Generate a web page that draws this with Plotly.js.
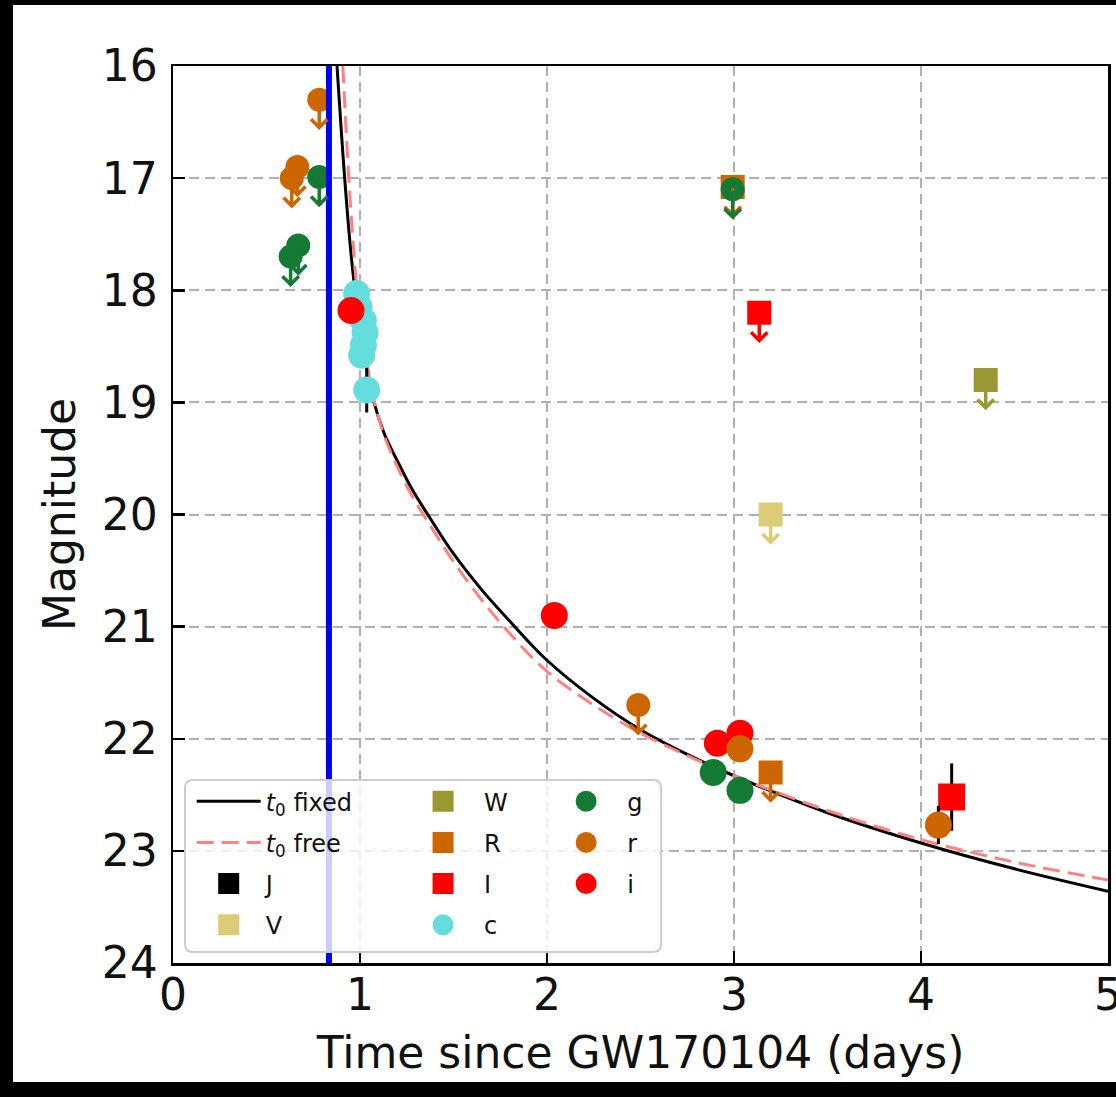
<!DOCTYPE html>
<html>
<head>
<meta charset="utf-8">
<script src="https://cdn.plot.ly/plotly-3.0.1.min.js"></script>
<style>
html,body{margin:0;padding:0;background:#000;overflow:hidden;width:1116px;height:1097px;}
#chart{position:absolute;left:13px;top:5px;width:1140px;height:1077px;background:#fff;}
</style>
</head>
<body>
<div id="chart"></div>
<script>
// ---- model curves ----
const fixedT   = [0.877, 0.90, 0.918, 0.945, 0.973, 1.02, 1.075, 1.13, 1.196, 1.28, 1.37, 1.50, 1.65, 1.80, 2.00, 2.25, 2.50, 2.75, 3.00, 3.50, 4.00, 4.50, 5.00];
const fixedMag = [16.00, 16.58, 17.00, 17.55, 18.00, 18.55, 19.00, 19.28, 19.51, 19.78, 20.02, 20.35, 20.67, 20.95, 21.30, 21.64, 21.92, 22.14, 22.33, 22.66, 22.93, 23.16, 23.36];
const freeT    = [0.908, 0.925, 0.94, 0.96, 0.984, 1.025, 1.075, 1.13, 1.196, 1.28, 1.35, 1.50, 1.65, 1.80, 2.00, 2.25, 2.50, 2.75, 3.00, 3.50, 4.00, 4.50, 5.00];
const freeMag  = [16.00, 16.55, 17.00, 17.50, 18.00, 18.52, 18.98, 19.30, 19.56, 19.84, 20.03, 20.42, 20.76, 21.06, 21.40, 21.70, 21.95, 22.15, 22.33, 22.64, 22.90, 23.10, 23.26];

// ---- trigger time ----
const triggerT = [0.834];

// ---- photometry: time (days), magnitude, upper-limit flag, error ----
const jT = [null], jMag = [null], jLim = [0], jErr = [0];
const vT = [3.196], vMag = [20.00], vLim = [1], vErr = [0];
const wT = [4.346], wMag = [18.80], wLim = [1], wErr = [0];
const RT = [2.993, 3.196], RMag = [17.08, 22.30], RLim = [1, 1], RErr = [0, 0];
const IT = [3.135, 4.164], IMag = [18.20, 22.52], ILim = [1, 0], IErr = [0, 0.30];
const cT = [0.982, 0.995, 1.018, 1.027, 1.018, 1.009, 1.036];
const cMag = [18.03, 18.15, 18.27, 18.38, 18.49, 18.58, 18.89];
const cLim = [0, 0, 0, 0, 0, 0, 0];
const cErr = [0, 0, 0, 0, 0, 0, 0.20];
const gT = [0.629, 0.670, 0.782, 2.993, 2.889, 3.032];
const gMag = [17.70, 17.60, 16.99, 17.10, 22.30, 22.46];
const gLim = [1, 1, 1, 1, 0, 0];
const gErr = [0, 0, 0, 0, 0, 0];
const rT = [0.782, 0.635, 0.665, 2.488, 3.032, 4.093];
const rMag = [16.30, 17.00, 16.90, 21.70, 22.09, 22.77];
const rLim = [1, 1, 1, 1, 0, 0];
const rErr = [0, 0, 0, 0, 0, 0.17];
const iT = [0.952, 2.039, 2.911, 3.032];
const iMag = [18.18, 20.90, 22.04, 21.95];
const iLim = [0, 0, 0, 0];
const iErr = [0, 0, 0, 0];

const xTicks = [0, 1, 2, 3, 4, 5];
const yTicks = [16, 17, 18, 19, 20, 21, 22, 23, 24];

const FONT = 'DejaVu Sans, sans-serif';
const LIM_DROP = 0.27;

const traces = [];
const annotations = [];

traces.push({x: fixedT, y: fixedMag, mode: 'lines', name: '<i>t</i><sub>0</sub> fixed',
  line: {color: '#000', width: 3, shape: 'spline', smoothing: 1},
  legend: 'legend', legendgroup: 'a1', legendrank: 1});
traces.push({x: freeT, y: freeMag, mode: 'lines', name: '<i>t</i><sub>0</sub> free',
  line: {color: '#ff8080', width: 3, dash: '17px,8px', shape: 'spline', smoothing: 1},
  legend: 'legend', legendgroup: 'a2', legendrank: 2});

function band(name, t, m, lim, err, color, symbol, leg, rank) {
  const sizes = lim.map(l => l ? 19 : 22);
  const hasErr = err.some(e => e > 0);
  const tr = {
    x: t, y: m, mode: 'markers', name: name,
    marker: {symbol: symbol, color: color, size: sizes, opacity: 1, line: {color: color, width: 5}},
    legend: leg, legendgroup: 'g_' + name, legendrank: rank
  };
  if (hasErr) {
    tr.error_y = {type: 'data', array: err, visible: true, color: '#000', thickness: 3, width: 0};
  }
  traces.push(tr);
  t.forEach((tt, k) => {
    if (lim[k] && tt !== null) {
      annotations.push({x: tt, y: m[k] + LIM_DROP, ax: tt, ay: m[k],
        xref: 'x', yref: 'y', axref: 'x', ayref: 'y', text: '', showarrow: true,
        arrowhead: 4, arrowsize: 0.9, arrowwidth: 3.5, arrowcolor: color, standoff: 0, startstandoff: 0});
    }
  });
}

band('J', jT, jMag, jLim, jErr, '#000000', 'square', 'legend', 3);
band('V', vT, vMag, vLim, vErr, '#ddcc77', 'square', 'legend', 4);
band('W', wT, wMag, wLim, wErr, '#999933', 'square', 'legend2', 1);
band('R', RT, RMag, RLim, RErr, '#cc6600', 'square', 'legend2', 2);
band('I', IT, IMag, ILim, IErr, '#ff0000', 'square', 'legend2', 3);
band('c', cT, cMag, cLim, cErr, '#66dddd', 'circle', 'legend2', 4);
band('g', gT, gMag, gLim, gErr, '#157a33', 'circle', 'legend3', 1);
band('i', iT, iMag, iLim, iErr, '#ff0000', 'circle', 'legend3', 3);
band('r', rT, rMag, rLim, rErr, '#cc6600', 'circle', 'legend3', 2);

traces.push({x: [triggerT[0], triggerT[0]], y: [yTicks[0], yTicks[yTicks.length - 1]], mode: 'lines',
  line: {color: '#0000ff', width: 6}, showlegend: false, hoverinfo: 'skip'});

// rounded legend frame (paper coords)
const bx0 = 0.0128, bx1 = 0.522, by0 = 0.0123, by1 = 0.204;
const rx = 8 / 935, ry = 8 / 897;
const framePath = `M ${bx0 + rx},${by0} L ${bx1 - rx},${by0} Q ${bx1},${by0} ${bx1},${by0 + ry} L ${bx1},${by1 - ry} Q ${bx1},${by1} ${bx1 - rx},${by1} L ${bx0 + rx},${by1} Q ${bx0},${by1} ${bx0},${by1 - ry} L ${bx0},${by0 + ry} Q ${bx0},${by0} ${bx0 + rx},${by0} Z`;

const legBase = {
  bgcolor: 'rgba(0,0,0,0)', borderwidth: 0, orientation: 'v',
  font: {family: FONT, size: 24, color: '#111'},
  xanchor: 'left', yanchor: 'top', y: 0.205, itemwidth: 64, tracegroupgap: 7,
  itemclick: false, itemdoubleclick: false
};

const axisCommon = {
  showline: true, linecolor: '#000', linewidth: 2.5, mirror: true,
  ticks: 'inside', ticklen: 12, tickwidth: 2.5, tickcolor: '#000',
  showgrid: true, gridcolor: '#b0b0b0', gridwidth: 2, griddash: '10px,6px',
  zeroline: false, tickfont: {family: FONT, size: 44, color: '#111'},
  automargin: false
};

const layout = {
  width: 1140, height: 1077,
  margin: {l: 160, r: 45, t: 61, b: 119},
  paper_bgcolor: '#fff', plot_bgcolor: '#fff',
  xaxis: Object.assign({}, axisCommon, {
    range: [xTicks[0], xTicks[xTicks.length - 1]], tickvals: xTicks, ticktext: xTicks.map(String),
    ticklabelstandoff: -8,
    title: {text: 'Time since GW170104 (days)', font: {family: FONT, size: 44, color: '#111'}, standoff: 18}
  }),
  yaxis: Object.assign({}, axisCommon, {
    range: [yTicks[yTicks.length - 1], yTicks[0]], tickvals: yTicks, ticktext: yTicks.map(String),
    ticklabelstandoff: 4,
    title: {text: 'Magnitude', font: {family: FONT, size: 44, color: '#111'}, standoff: 13}
  }),
  showlegend: true,
  legend: Object.assign({}, legBase, {x: 0.02}),
  legend2: Object.assign({}, legBase, {x: 0.245, itemwidth: 72}),
  legend3: Object.assign({}, legBase, {x: 0.398, itemwidth: 72}),
  shapes: [{type: 'path', xref: 'paper', yref: 'paper', path: framePath, layer: 'above',
    fillcolor: 'rgba(255,255,255,0.8)', line: {color: '#cccccc', width: 2}}],
  annotations: annotations
};

Plotly.newPlot('chart', traces, layout, {displayModeBar: false, staticPlot: true});
</script>
</body>
</html>
